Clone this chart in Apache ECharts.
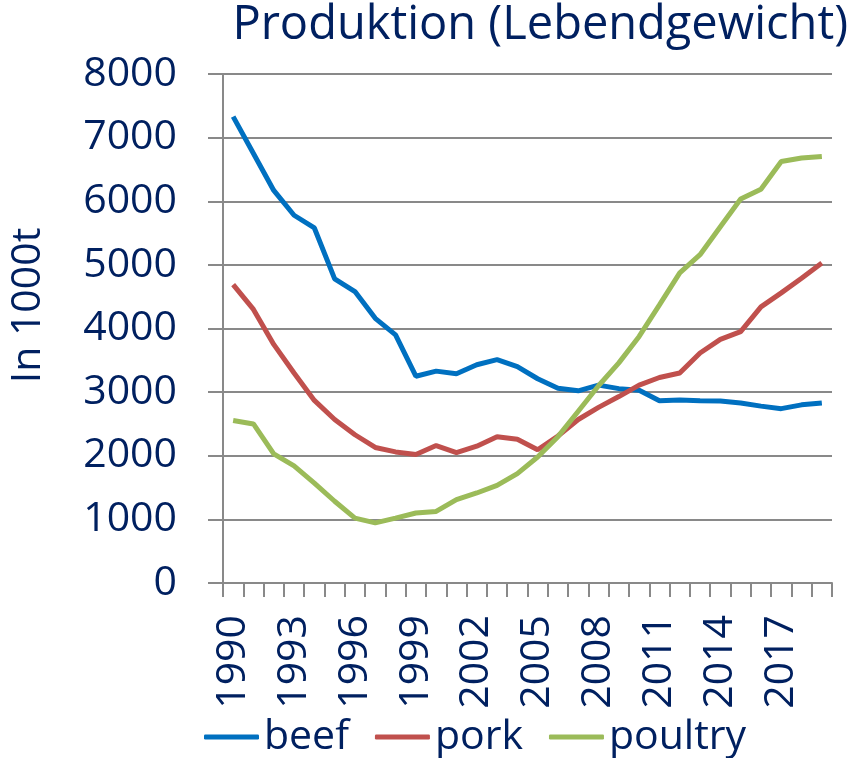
<!DOCTYPE html>
<html>
<head>
<meta charset="utf-8">
<script src="https://cdn.jsdelivr.net/npm/echarts@6/dist/echarts.min.js"></script>
<style>
  html, body { margin: 0; padding: 0; background: #fff; }
  #chart { width: 855px; height: 758px; }
</style>
</head>
<body>
<div id="chart"></div>
<script>
// Jahre 1990 - 2019
var years = ["1990","1991","1992","1993","1994","1995","1996","1997","1998","1999",
  "2000","2001","2002","2003","2004","2005","2006","2007","2008","2009",
  "2010","2011","2012","2013","2014","2015","2016","2017","2018","2019"];

var beef = [7330, 6750, 6170, 5780, 5580, 4780, 4580, 4160, 3900, 3250,
  3330, 3290, 3430, 3510, 3400, 3210, 3060, 3020, 3110, 3055,
  3030, 2865, 2875, 2865, 2860, 2830, 2780, 2740, 2800, 2830];

var pork = [4690, 4300, 3750, 3300, 2870, 2570, 2330, 2130, 2060, 2020,
  2160, 2050, 2150, 2300, 2260, 2095, 2310, 2570, 2760, 2930,
  3110, 3230, 3300, 3615, 3830, 3950, 4340, 4560, 4790, 5030];

var poultry = [2555, 2500, 2030, 1840, 1570, 1285, 1020, 945, 1020, 1100,
  1125, 1310, 1415, 1535, 1720, 1980, 2300, 2700, 3100, 3460,
  3875, 4370, 4875, 5160, 5600, 6035, 6190, 6625, 6680, 6705];

var navy = "#002060";
var gridGrey = "#898989";
var font = "Open Sans";

var myChart = echarts.init(document.getElementById("chart"));

myChart.setOption({
  animation: false,
  title: {
    text: "Produktion (Lebendgewicht)",
    right: 7,
    top: 2,
    padding: 0,
    textStyle: { color: navy, fontFamily: font, fontSize: 47, fontWeight: "normal" }
  },
  legend: {
    data: ["beef", "pork", "poultry"],
    left: 204,
    top: 713,
    padding: 0,
    icon: "roundRect",
    itemWidth: 55,
    itemHeight: 5,
    itemGap: 26,
    textStyle: { color: navy, fontFamily: font, fontSize: 41, lineHeight: 48 }
  },
  grid: {
    left: 219,
    right: 23,
    top: 74,
    bottom: 175
  },
  xAxis: {
    type: "category",
    data: years,
    boundaryGap: true,
    axisLine: { lineStyle: { color: gridGrey, width: 2 } },
    axisTick: { show: true, interval: 0, length: 14, lineStyle: { color: gridGrey, width: 2 } },
    axisLabel: {
      interval: 2,
      rotate: 90,
      margin: 32,
      color: navy,
      fontFamily: font,
      fontSize: 41
    }
  },
  yAxis: {
    type: "value",
    min: 0,
    max: 8000,
    interval: 1000,
    name: "In 1000t",
    nameLocation: "middle",
    nameGap: 174,
    nameTextStyle: { color: navy, fontFamily: font, fontSize: 41, padding: [0, 0, 0, 46] },
    axisLine: { show: true, lineStyle: { color: gridGrey, width: 2 } },
    axisTick: { show: true, length: 15, lineStyle: { color: gridGrey, width: 2 } },
    axisLabel: {
      margin: 46,
      color: navy,
      fontFamily: font,
      fontSize: 41,
      formatter: function (v) { return String(v); }
    },
    splitLine: { lineStyle: { color: gridGrey, width: 2 } }
  },
  series: [
    {
      name: "beef",
      type: "line",
      data: beef,
      showSymbol: false,
      lineStyle: { color: "#0070C0", width: 5 },
      itemStyle: { color: "#0070C0" }
    },
    {
      name: "pork",
      type: "line",
      data: pork,
      showSymbol: false,
      lineStyle: { color: "#C0504D", width: 5 },
      itemStyle: { color: "#C0504D" }
    },
    {
      name: "poultry",
      type: "line",
      data: poultry,
      showSymbol: false,
      lineStyle: { color: "#9BBB59", width: 5 },
      itemStyle: { color: "#9BBB59" }
    }
  ]
});
</script>
</body>
</html>
